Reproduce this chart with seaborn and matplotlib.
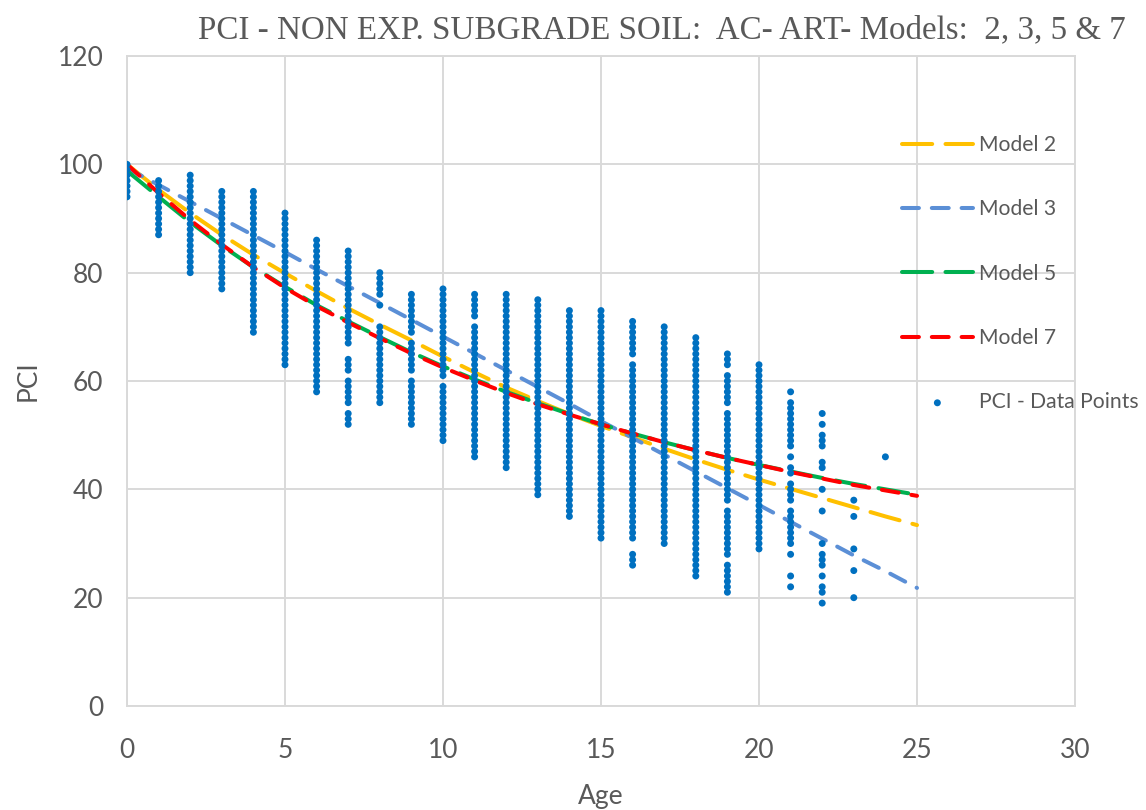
import matplotlib
matplotlib.use("Agg")
import matplotlib.pyplot as plt
import seaborn as sns
import pandas as pd
import numpy as np

# ---------------- data ----------------
model_ages = list(range(0, 26))
model2 = [100, 95.3, 91.0, 87.0, 83.3, 79.9, 76.6, 73.4, 70.4, 67.5, 64.5, 61.6, 58.8,
          56.3, 53.9, 51.7, 49.6, 47.5, 45.5, 43.6, 41.8, 40.1, 38.4, 36.7, 35.0, 33.4]
model3 = [99.3, 96.2, 93.1, 90.0, 86.9, 83.8, 80.6, 77.5, 74.4, 71.3, 68.2, 65.1, 62.0,
          58.9, 55.8, 52.6, 49.5, 46.4, 43.3, 40.2, 37.1, 34.0, 30.9, 27.8, 24.9, 21.8]
model5 = [98.8, 94.0, 89.3, 85.0, 81.0, 77.4, 74.0, 71.0, 68.1, 65.3, 62.7, 60.3, 58.0,
          55.9, 53.9, 52.0, 50.3, 48.7, 47.2, 45.8, 44.5, 43.3, 42.1, 41.0, 40.0, 39.0]
model7 = [100, 94.7, 89.7, 85.2, 81.0, 77.2, 73.8, 70.8, 67.9, 65.1, 62.5, 60.1, 57.8,
          55.7, 53.8, 52.0, 50.3, 48.7, 47.2, 45.8, 44.5, 43.2, 42.0, 40.8, 39.8, 38.8]

# observed PCI values per age, given as inclusive integer spans (lo, hi) of the dot columns
point_ages = list(range(0, 25))
pci_spans = [
    [(94, 100)],
    [(87, 97)],
    [(80, 98)],
    [(77, 95)],
    [(69, 95)],
    [(63, 91)],
    [(58, 86)],
    [(67, 84), (62, 64), (56, 60), (52, 54)],
    [(77, 80), (76, 76), (74, 74), (56, 70)],
    [(69, 76), (62, 67), (52, 60)],
    [(61, 77), (49, 59)],
    [(72, 76), (46, 70)],
    [(44, 76)],
    [(39, 75)],
    [(35, 73)],
    [(31, 73)],
    [(65, 71), (31, 63), (26, 28)],
    [(30, 70)],
    [(24, 68)],
    [(63, 65), (56, 61), (38, 54), (28, 36), (21, 26)],
    [(29, 63)],
    [(58, 58), (48, 56), (46, 46), (43, 44), (38, 41), (30, 36), (28, 28), (24, 24), (22, 22)],
    [(54, 54), (52, 52), (48, 50), (44, 45), (40, 40), (36, 36), (30, 30), (26, 28),
     (24, 24), (21, 22), (19, 19)],
    [(38, 38), (35, 35), (29, 29), (25, 25), (20, 20)],
    [(46, 46)],
]

x_ticks = [0, 5, 10, 15, 20, 25, 30]
y_ticks = [0, 20, 40, 60, 80, 100, 120]
title_text = "PCI - NON EXP. SUBGRADE SOIL:  AC- ART- Models:  2, 3, 5 & 7"

# ---------------- build tables ----------------
pts_age, pts_pci = [], []
for a, spans in zip(point_ages, pci_spans):
    for lo, hi in spans:
        for v in range(lo, hi + 1):
            pts_age.append(a)
            pts_pci.append(v)
points = pd.DataFrame({"Age": pts_age, "PCI": pts_pci})
models = pd.DataFrame({"Age": model_ages, "Model 2": model2, "Model 3": model3,
                       "Model 5": model5, "Model 7": model7})

# ---------------- style ----------------
sns.set_style("white")
plt.rcParams["font.family"] = ["Lato", "DejaVu Sans"]
GRID = "#D9D9D9"
TXT = "#595959"

fig = plt.figure(figsize=(11.46, 8.10), dpi=100)
ax = fig.add_axes([127 / 1146, 1 - 706 / 810, (1075 - 127) / 1146, (706 - 56) / 810])

lw = 2.9
line_specs = [
    ("Model 2", "#FFC000", (7.5, 3.3)),
    ("Model 3", "#5B8FD6", (4.2, 3.2)),
    ("Model 5", "#00B050", (7.5, 3.3)),
    ("Model 7", "#FF0000", (4.2, 3.2)),
]
for i, (name, col, dash) in enumerate(line_specs):
    sns.lineplot(data=models, x="Age", y=name, ax=ax, color=col, linewidth=lw,
                 label=name, zorder=3 + i)
    ax.lines[-1].set_dashes(dash)
    ax.lines[-1].set_dash_capstyle("round")

sns.scatterplot(data=points, x="Age", y="PCI", ax=ax, color="#0070C0", s=25,
                edgecolor="none", linewidth=0, label="PCI - Data Points", zorder=10)

ax.set_xlim(0, 30)
ax.set_ylim(0, 120)
ax.set_xticks(x_ticks)
ax.set_yticks(y_ticks)
ax.grid(True, color=GRID, linewidth=1.4)
ax.set_axisbelow(True)
for s in ax.spines.values():
    s.set_color(GRID)
    s.set_linewidth(1.4)
ax.tick_params(axis="both", length=0, labelsize=19, labelcolor=TXT)
ax.tick_params(axis="x", pad=23)
ax.tick_params(axis="y", pad=17)
ax.set_xlabel("Age", fontsize=19, color=TXT, labelpad=15)
ax.set_ylabel("PCI", fontsize=19, color=TXT, labelpad=12)

fig.text(662 / 1146, 1 - 30 / 810, title_text, ha="center", va="center",
         fontsize=23.8, color=TXT, family=["Liberation Serif", "DejaVu Serif"])

handles, labels = ax.get_legend_handles_labels()
leg = ax.legend(handles, labels, loc="upper left",
                bbox_to_anchor=(902 / 1146, 1 - 135 / 810), bbox_transform=fig.transFigure,
                frameon=False, fontsize=15.2, labelspacing=2.1, handlelength=3.35,
                handletextpad=0.3, borderpad=0, borderaxespad=0, markerscale=1.0)
for t in leg.get_texts():
    t.set_color(TXT)

fig.savefig("out.png", dpi=100)
